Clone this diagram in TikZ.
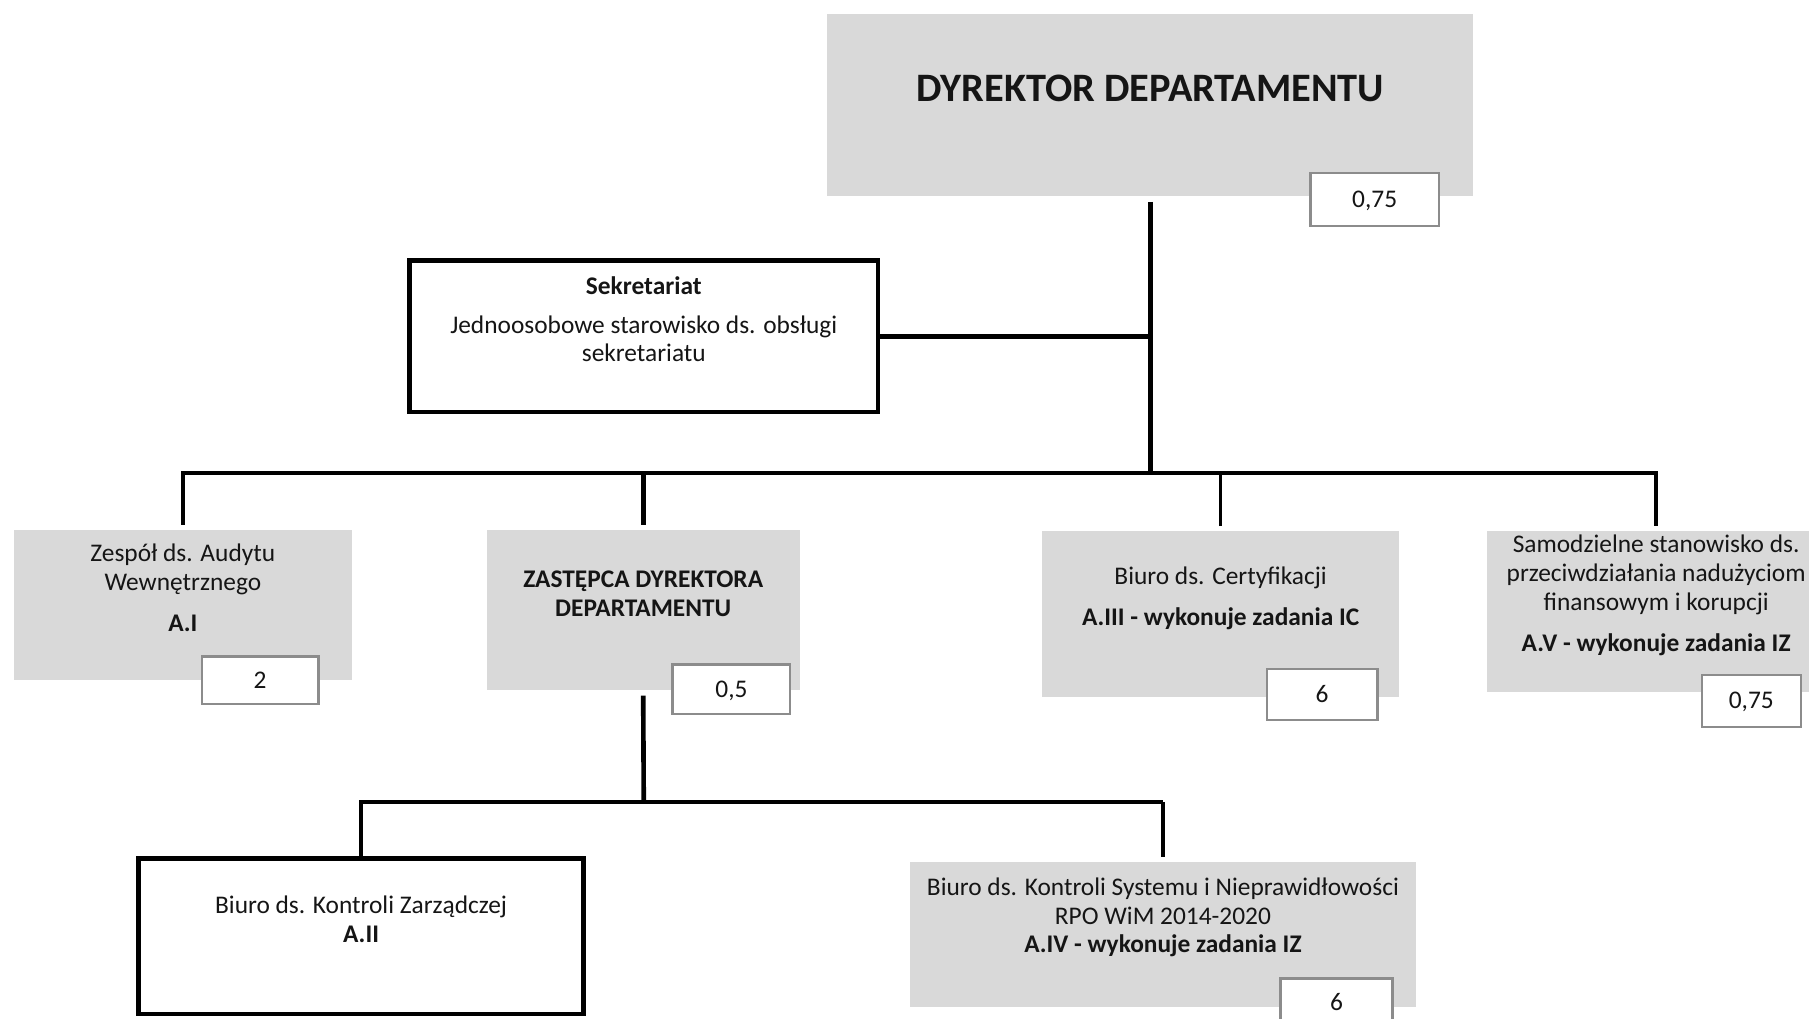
\documentclass[tikz,border=0pt]{standalone}
\usepackage{fontspec}
\setmainfont{Carlito}
\definecolor{boxgray}{HTML}{D9D9D9}
\definecolor{badgeline}{HTML}{8C8C8C}
\definecolor{txtcol}{HTML}{151515}
\tikzset{
  graybox/.style={rectangle, fill=boxgray, inner sep=0pt, outer sep=0pt},
  linebox/.style={rectangle, draw=black, line width=4pt, fill=white, inner sep=0pt, outer sep=0pt},
  badge/.style={rectangle, fill=white, draw=badgeline, line width=2pt, inner sep=0pt, outer sep=0pt},
  txt/.style={inner sep=0pt, anchor=base, text=txtcol, font=\fontsize{22}{26}\selectfont},
  btxt/.style={txt, font=\bfseries\fontsize{22}{26}\selectfont},
  conn/.style={draw=black, line width=4pt},
  connthin/.style={draw=black, line width=3pt},
}
\begin{document}
\begin{tikzpicture}[x=1pt,y=-1pt]
\clip (0,0) rectangle (1568,883);
\fill[white] (0,0) rectangle (1568,883);

% Director
\node[graybox, minimum width=560pt, minimum height=158pt] (dir) at (997,91) {};
\node[txt, font=\bfseries\fontsize{35}{40}\selectfont] (dirT) at (997,88) {DYREKTOR DEPARTAMENTU};
\node[badge, minimum width=111pt, minimum height=46pt] (dirB) at (1191.5,173) {};
\node[txt] (dirBT) at (1191.5,180) {0,75};

% Sekretariat
\node[linebox, minimum width=406pt, minimum height=131pt] (sek) at (558,291.5) {};
\node[btxt] (sekT1) at (558,255) {Sekretariat};
\node[txt] (sekT2) at (558,289) {Jednoosobowe starowisko ds. obsługi};
\node[txt] (sekT3) at (558,313) {sekretariatu};

% Zespół ds. Audytu
\node[graybox, minimum width=293pt, minimum height=130pt] (zesp) at (158.5,524) {};
\node[txt] (zespT1) at (158.5,487) {Zespół ds. Audytu};
\node[txt] (zespT2) at (158.5,512) {Wewnętrznego};
\node[btxt] (zespT3) at (158.5,547) {A.I};
\node[badge, minimum width=101pt, minimum height=41pt] (zespB) at (225.5,589.5) {};
\node[txt] (zespBT) at (225.5,597) {2};

% Zastępca
\node[graybox, minimum width=271pt, minimum height=139pt] (zast) at (557.5,528.5) {};
\node[btxt] (zastT1) at (557.5,509) {ZASTĘPCA DYREKTORA};
\node[btxt] (zastT2) at (557.5,534) {DEPARTAMENTU};
\node[badge, minimum width=102pt, minimum height=43pt] (zastB) at (634,597.5) {};
\node[txt] (zastBT) at (634,605) {0,5};

% Biuro ds. Certyfikacji
\node[graybox, minimum width=310pt, minimum height=144pt] (cert) at (1058,532) {};
\node[txt] (certT1) at (1058,507) {Biuro ds. Certyfikacji};
\node[btxt] (certT2) at (1058,542) {A.III - wykonuje zadania IC};
\node[badge, minimum width=96pt, minimum height=44pt] (certB) at (1146,602) {};
\node[txt] (certBT) at (1146,609) {6};

% Samodzielne stanowisko
\node[graybox, minimum width=293pt, minimum height=140pt] (samo) at (1435.5,530) {};
\node[txt] (samoT1) at (1435.5,479) {Samodzielne stanowisko ds.};
\node[txt] (samoT2) at (1435.5,504) {przeciwdziałania nadużyciom};
\node[txt] (samoT3) at (1435.5,529) {finansowym i korupcji};
\node[btxt] (samoT4) at (1435.5,565) {A.V - wykonuje zadania IZ};
\node[badge, minimum width=86pt, minimum height=45pt] (samoB) at (1518,607.5) {};
\node[txt] (samoBT) at (1518,614) {0,75};

% Biuro ds. Kontroli Zarządczej
\node[linebox, minimum width=386pt, minimum height=135pt] (kz) at (313,811.5) {};
\node[txt] (kzT1) at (313,792) {Biuro ds. Kontroli Zarządczej};
\node[btxt] (kzT2) at (313,817) {A.II};

% Biuro ds. Kontroli Systemu
\node[graybox, minimum width=438pt, minimum height=126pt] (ks) at (1008,810) {};
\node[txt] (ksT1) at (1008,776) {Biuro ds. Kontroli Systemu i Nieprawidłowości};
\node[txt] (ksT2) at (1008,801) {RPO WiM 2014-2020};
\node[btxt] (ksT3) at (1008,826) {A.IV - wykonuje zadania IZ};
\node[badge, minimum width=97pt, minimum height=47pt] (ksB) at (1158.5,871.5) {};
\node[txt] (ksBT) at (1158.5,876) {6};

% connectors
\coordinate (busC) at (997,410);
\coordinate (lowJ) at (558,695);

\draw[conn] ([yshift=-5pt]dir.south) -- (busC);
\draw[conn] (sek.east) -- (sek.east -| busC);
\draw[conn] ([yshift=4pt]zesp.north) -- (zesp.north |- busC) -- (busC);
\draw[conn] ([yshift=4pt]zast.north) -- (zast.north |- busC);
\draw[connthin] (busC) -- (samo.north |- busC) -- ([yshift=4pt]samo.north);
\draw[connthin] ([yshift=4pt]cert.north) -- (cert.north |- busC);

\draw[conn] ([yshift=-5pt]zast.south) -- (lowJ);
\draw[conn] (kz.north) -- (kz.north |- lowJ) -- (lowJ);
\draw[conn] (lowJ) -- (ks.north |- lowJ);
\draw[connthin] (ks.north |- lowJ) -- ([yshift=4pt]ks.north);
\end{tikzpicture}
\end{document}
